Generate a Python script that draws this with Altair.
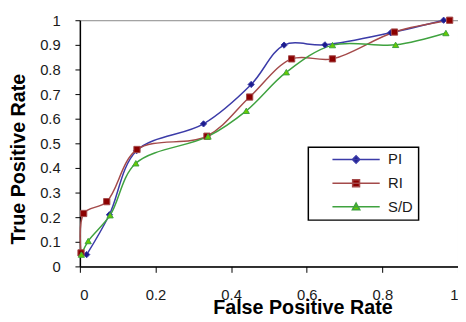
import altair as alt
import pandas as pd

series = ["PI", "RI", "S/D"]
pi_fpr = [0.018, 0.078, 0.15, 0.327, 0.453, 0.54, 0.648, 0.822, 0.962]
pi_tpr = [0.048, 0.21, 0.47, 0.579, 0.739, 0.899, 0.90, 0.949, 1.0]
ri_fpr = [0.003, 0.01, 0.071, 0.151, 0.336, 0.449, 0.56, 0.668, 0.832, 0.978]
ri_tpr = [0.055, 0.215, 0.263, 0.475, 0.529, 0.688, 0.843, 0.843, 0.952, 1.0]
sd_fpr = [0.004, 0.022, 0.08, 0.148, 0.339, 0.44, 0.546, 0.668, 0.835, 0.968]
sd_tpr = [0.048, 0.103, 0.208, 0.419, 0.528, 0.632, 0.789, 0.899, 0.90, 0.948]

x_ticks = [0, 0.2, 0.4, 0.6, 0.8, 1]
y_ticks = [0, 0.1, 0.2, 0.3, 0.4, 0.5, 0.6, 0.7, 0.8, 0.9, 1]

line_colors = ["#3B3BA8", "#A44A4A", "#3FA23F"]
fill_colors = ["#1C1C8E", "#8B0000", "#66CC00"]
shapes = ["diamond", "square", "triangle-up"]
legend_paths = [
    "M2.4,0H12M7.2,-0.75L7.95,0L7.2,0.75L6.45,0Z",
    "M2.4,0H12M6.5,-0.7H7.9V0.7H6.5Z",
    "M2.4,0H12M7.2,-0.75L7.95,0.6H6.45Z",
]

rows = []
for name, xs, ys in zip(series, [pi_fpr, ri_fpr, sd_fpr], [pi_tpr, ri_tpr, sd_tpr]):
    for i, (a, b) in enumerate(zip(xs, ys)):
        rows.append({"series": name, "fpr": a, "tpr": b, "order": i})
df = pd.DataFrame(rows)


def pick(values):
    expr = "'" + values[-1] + "'"
    for s, v in reversed(list(zip(series[:-1], values[:-1]))):
        expr = f"datum.value === '{s}' ? '{v}' : " + expr
    return alt.ExprRef(expr)


x = alt.X("fpr:Q", scale=alt.Scale(domain=[0, 1], nice=False),
          axis=alt.Axis(values=x_ticks, format="~g", title="False Positive Rate",
                        titleX=226, titleY=42, titleBaseline="middle",
                        tickSize=6, labelPadding=16))
y = alt.Y("tpr:Q", scale=alt.Scale(domain=[0, 1], nice=False),
          axis=alt.Axis(values=y_ticks, format="~g", title="True Positive Rate",
                        titleX=-62, titleY=140.5, titleAngle=270, titleBaseline="middle",
                        tickSize=5, labelPadding=15))

lines = alt.Chart(df).mark_line(interpolate="catmull-rom", strokeWidth=1.5).encode(
    x=x, y=y,
    stroke=alt.Stroke("series:N", sort=series,
                      scale=alt.Scale(domain=series, range=line_colors),
                      legend=alt.Legend(
                          title=None, orient="none", legendX=232, legendY=129,
                          symbolType=pick(legend_paths), symbolSize=100,
                          symbolFillColor=pick(fill_colors),
                          symbolStrokeColor=pick(line_colors),
                          symbolStrokeWidth=1.5,
                          labelOffset=61, labelFontSize=15,
                          labelExpr="datum.label + '\u00a0\u00a0\u00a0\u00a0\u00a0'",
                          rowPadding=8, padding=5,
                          strokeColor="#000000", fillColor="#ffffff")),
    order="order:Q",
)

layers = [lines]
for name, shp, fc, lc in zip(series, shapes, fill_colors, line_colors):
    layers.append(
        alt.Chart(df).transform_filter(alt.datum.series == name)
        .mark_point(filled=True, shape=shp, size=40, fill=fc, stroke=lc, strokeWidth=1, opacity=1)
        .encode(x=x, y=y)
    )

chart = alt.layer(*layers).properties(
    width=384, height=250,
    autosize=alt.AutoSizeParams(type="none"),
    padding={"left": 73, "top": 10, "right": 0, "bottom": 52},
).configure_view(
    stroke="#888888", strokeWidth=1
).configure_axis(
    grid=False, domainColor="#000000", domainWidth=1.5, tickColor="#000000",
    labelFont="Liberation Sans", labelFontSize=15, labelColor="#1a1a1a",
    titleFont="Liberation Sans", titleFontSize=20, titleFontWeight="bold",
    titleColor="#000000",
).configure_legend(
    labelFont="Liberation Sans", labelColor="#1a1a1a", strokeWidth=1.5,
)

chart.save("out.html", embed_options={"renderer": "svg", "actions": False})
